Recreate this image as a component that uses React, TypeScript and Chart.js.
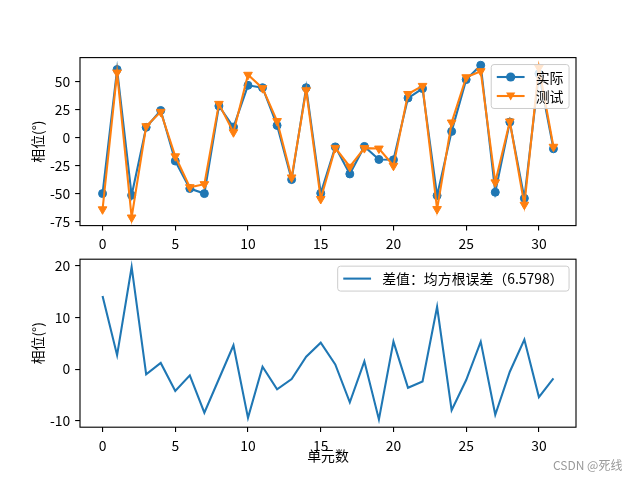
import React, { useEffect, useRef } from 'react';
import { Chart, registerables } from 'chart.js';

Chart.register(...registerables);

// ---------- data ----------
const units = [0, 1, 2, 3, 4, 5, 6, 7, 8, 9, 10, 11, 12, 13, 14, 15, 16, 17, 18, 19, 20, 21, 22, 23, 24, 25, 26, 27, 28, 29, 30, 31];
const actualPhase = [-50, 60.5, -51.5, 9, 24, -21, -45.5, -50, 28, 9.2, 46.4, 44.3, 10.7, -37.5, 44.3, -49.7, -8.4, -32.5, -8, -19.6, -19.9, 35.1, 43.5, -51.8, 5.4, 51.5, 64.3, -48.8, 13.7, -54.2, 56.8, -10.1];
const testPhase = [-64, 57.8, -71.3, 10, 22.8, -16.8, -44.3, -41.6, 29.9, 4.6, 55.8, 43.9, 14.6, -35.6, 42, -54.8, -9.3, -26.1, -9.5, -9.9, -25.2, 38.7, 45.9, -63.8, 13.3, 53.6, 59, -40, 14.2, -59.9, 62.2, -8.3];
const diffPhase = [14.1, 2.7, 19.7, -1.0, 1.2, -4.2, -1.2, -8.4, -1.9, 4.6, -9.4, 0.45, -3.9, -1.9, 2.4, 5.1, 0.9, -6.4, 1.5, -9.7, 5.3, -3.6, -2.4, 12.0, -7.9, -2.1, 5.3, -8.8, -0.5, 5.7, -5.4, -1.8];

const xTicks = [0, 5, 10, 15, 20, 25, 30];
const topYTicks = [-75, -50, -25, 0, 25, 50];
const bottomYTicks = [-10, 0, 10, 20];

const actualLabel = '实际';
const testLabel = '测试';
const diffLabel = '差值：均方根误差（6.5798）';
const yTitle = '相位(°)';
const xTitle = '单元数';
const watermark = 'CSDN @死线';

// ---------- style ----------
const FONT = '"Noto Sans CJK SC", "DejaVu Sans", sans-serif';
const FS = 13.9;
const BLUE = '#1f77b4';
const ORANGE = '#ff7f0e';
const PT = 100 / 72;

type LegendItem = { label: string; color: string; marker: 'circle' | 'tri' | null };

function legendPlugin(items: LegendItem[]) {
  return {
    id: 'mplLegend',
    afterDraw(chart: any) {
      const { ctx, chartArea } = chart;
      ctx.save();
      ctx.font = `${FS}px ${FONT}`;
      const textW = Math.max(...items.map((i) => ctx.measureText(i.label).width));
      const pad = 0.4 * FS;
      const axPad = 0.5 * FS;
      const handleLen = 2 * FS;
      const handlePad = 0.8 * FS;
      const rowH = 13.8;
      const spacing = 5.2;
      const boxW = pad * 2 + handleLen + handlePad + textW;
      const boxH = pad * 2 + items.length * rowH + (items.length - 1) * spacing;
      const right = chartArea.right - axPad;
      const top = chartArea.top + axPad;
      const left = right - boxW;
      const r = 2.8;
      ctx.beginPath();
      ctx.moveTo(left + r, top);
      ctx.lineTo(left + boxW - r, top);
      ctx.quadraticCurveTo(left + boxW, top, left + boxW, top + r);
      ctx.lineTo(left + boxW, top + boxH - r);
      ctx.quadraticCurveTo(left + boxW, top + boxH, left + boxW - r, top + boxH);
      ctx.lineTo(left + r, top + boxH);
      ctx.quadraticCurveTo(left, top + boxH, left, top + boxH - r);
      ctx.lineTo(left, top + r);
      ctx.quadraticCurveTo(left, top, left + r, top);
      ctx.closePath();
      ctx.fillStyle = 'rgba(255,255,255,0.8)';
      ctx.fill();
      ctx.strokeStyle = '#cccccc';
      ctx.lineWidth = 1;
      ctx.stroke();
      items.forEach((it, i) => {
        const cy = top + pad + rowH / 2 + i * (rowH + spacing);
        const x0 = left + pad;
        ctx.strokeStyle = it.color;
        ctx.lineWidth = 1.5 * PT;
        ctx.beginPath();
        ctx.moveTo(x0, cy);
        ctx.lineTo(x0 + handleLen, cy);
        ctx.stroke();
        const mx = x0 + handleLen / 2;
        ctx.fillStyle = it.color;
        if (it.marker === 'circle') {
          ctx.beginPath();
          ctx.arc(mx, cy, 4.6, 0, Math.PI * 2);
          ctx.fill();
        } else if (it.marker === 'tri') {
          ctx.beginPath();
          ctx.moveTo(mx - 4.6, cy - 3.6);
          ctx.lineTo(mx + 4.6, cy - 3.6);
          ctx.lineTo(mx, cy + 4.6);
          ctx.closePath();
          ctx.fill();
        }
        ctx.fillStyle = '#000';
        ctx.textBaseline = 'middle';
        ctx.textAlign = 'left';
        ctx.fillText(it.label, x0 + handleLen + handlePad, cy + 0.5);
      });
      ctx.restore();
    },
  };
}

const framePlugin = {
  id: 'frame',
  afterDatasetsDraw(chart: any) {
    const { ctx, chartArea } = chart;
    ctx.save();
    ctx.strokeStyle = '#000';
    ctx.lineWidth = 0.8 * PT;
    ctx.strokeRect(chartArea.left, chartArea.top, chartArea.right - chartArea.left, chartArea.bottom - chartArea.top);
    ctx.restore();
  },
};

function xScale(height: number, title: string | null) {
  return {
    type: 'linear',
    min: -1.55,
    max: 32.55,
    afterBuildTicks: (s: any) => {
      s.ticks = xTicks.map((v) => ({ value: v }));
    },
    afterFit: (s: any) => {
      s.height = height;
    },
    grid: { display: true, drawOnChartArea: false, drawTicks: true, tickLength: 3.5 * PT, color: '#000', lineWidth: 0.8 * PT },
    border: { display: false },
    ticks: { color: '#000', padding: 3.5 * PT, font: { size: FS, family: FONT }, maxRotation: 0, autoSkip: false },
    title: title
      ? { display: true, text: title, color: '#000', font: { size: FS, family: FONT }, padding: { top: 0, bottom: 15.7 } }
      : { display: false },
  };
}

function yScale(min: number, max: number, ticks: number[]) {
  return {
    type: 'linear',
    min,
    max,
    afterBuildTicks: (s: any) => {
      s.ticks = ticks.map((v) => ({ value: v }));
    },
    afterFit: (s: any) => {
      s.width = 80;
    },
    grid: { display: true, drawOnChartArea: false, drawTicks: true, tickLength: 3.5 * PT, color: '#000', lineWidth: 0.8 * PT },
    border: { display: false },
    ticks: { color: '#000', padding: 3.5 * PT, font: { size: FS, family: FONT } },
    title: { display: true, text: yTitle, color: '#000', font: { size: FS, family: FONT }, padding: { top: 29, bottom: 0 } },
  };
}

const toPts = (vals: number[]) => units.map((u, i) => ({ x: u, y: vals[i] }));

export default function App() {
  const topRef = useRef<HTMLCanvasElement>(null);
  const botRef = useRef<HTMLCanvasElement>(null);

  useEffect(() => {
    Chart.defaults.font.family = FONT;
    const common = {
      responsive: false,
      animation: false,
      devicePixelRatio: 1,
      events: [],
    };
    const top = new Chart(topRef.current as HTMLCanvasElement, {
      type: 'line',
      data: {
        datasets: [
          {
            label: actualLabel,
            data: toPts(actualPhase),
            borderColor: BLUE,
            backgroundColor: BLUE,
            borderWidth: 1.5 * PT,
            pointStyle: 'circle',
            pointRadius: 4,
            pointBorderWidth: 1,
            pointBackgroundColor: BLUE,
            pointBorderColor: BLUE,
            tension: 0,
            order: 2,
          },
          {
            label: testLabel,
            data: toPts(testPhase),
            borderColor: ORANGE,
            backgroundColor: ORANGE,
            borderWidth: 1.5 * PT,
            pointStyle: 'triangle',
            pointRotation: 180,
            pointRadius: 5,
            pointBorderWidth: 1,
            pointBackgroundColor: ORANGE,
            pointBorderColor: ORANGE,
            tension: 0,
            order: 1,
          },
        ],
      },
      options: {
        ...common,
        layout: { padding: { top: 57.6, right: 64, bottom: 224.4, left: 0 } },
        plugins: { legend: { display: false }, tooltip: { enabled: false } },
        scales: {
          x: xScale(30, null),
          y: yScale(-78.5, 71.1, topYTicks),
        },
      } as any,
      plugins: [
        framePlugin,
        legendPlugin([
          { label: actualLabel, color: BLUE, marker: 'circle' },
          { label: testLabel, color: ORANGE, marker: 'tri' },
        ]),
      ],
    } as any);

    const bot = new Chart(botRef.current as HTMLCanvasElement, {
      type: 'line',
      data: {
        datasets: [
          {
            label: diffLabel,
            data: toPts(diffPhase),
            borderColor: BLUE,
            backgroundColor: BLUE,
            borderWidth: 1.5 * PT,
            pointRadius: 0,
            tension: 0,
          },
        ],
      },
      options: {
        ...common,
        layout: { padding: { top: 259.2, right: 64, bottom: 0, left: 0 } },
        plugins: { legend: { display: false }, tooltip: { enabled: false } },
        scales: {
          x: xScale(52.8, xTitle),
          y: yScale(-11.2, 21.2, bottomYTicks),
        },
      } as any,
      plugins: [framePlugin, legendPlugin([{ label: diffLabel, color: BLUE, marker: null }])],
    } as any);

    return () => {
      top.destroy();
      bot.destroy();
    };
  }, []);

  return (
    <div style={{ position: 'absolute', left: 0, top: 0, width: 640, height: 480, background: '#fff', overflow: 'hidden' }}>
      <canvas ref={topRef} width={640} height={480} style={{ position: 'absolute', left: 0, top: 0, width: 640, height: 480 }} />
      <canvas ref={botRef} width={640} height={480} style={{ position: 'absolute', left: 0, top: 0, width: 640, height: 480 }} />
      <div
        style={{
          position: 'absolute',
          left: 553,
          top: 457,
          fontSize: 12,
          lineHeight: '16px',
          color: '#9a9a9a',
          fontFamily: FONT,
          whiteSpace: 'nowrap',
        }}
      >
        {watermark}
      </div>
    </div>
  );
}
